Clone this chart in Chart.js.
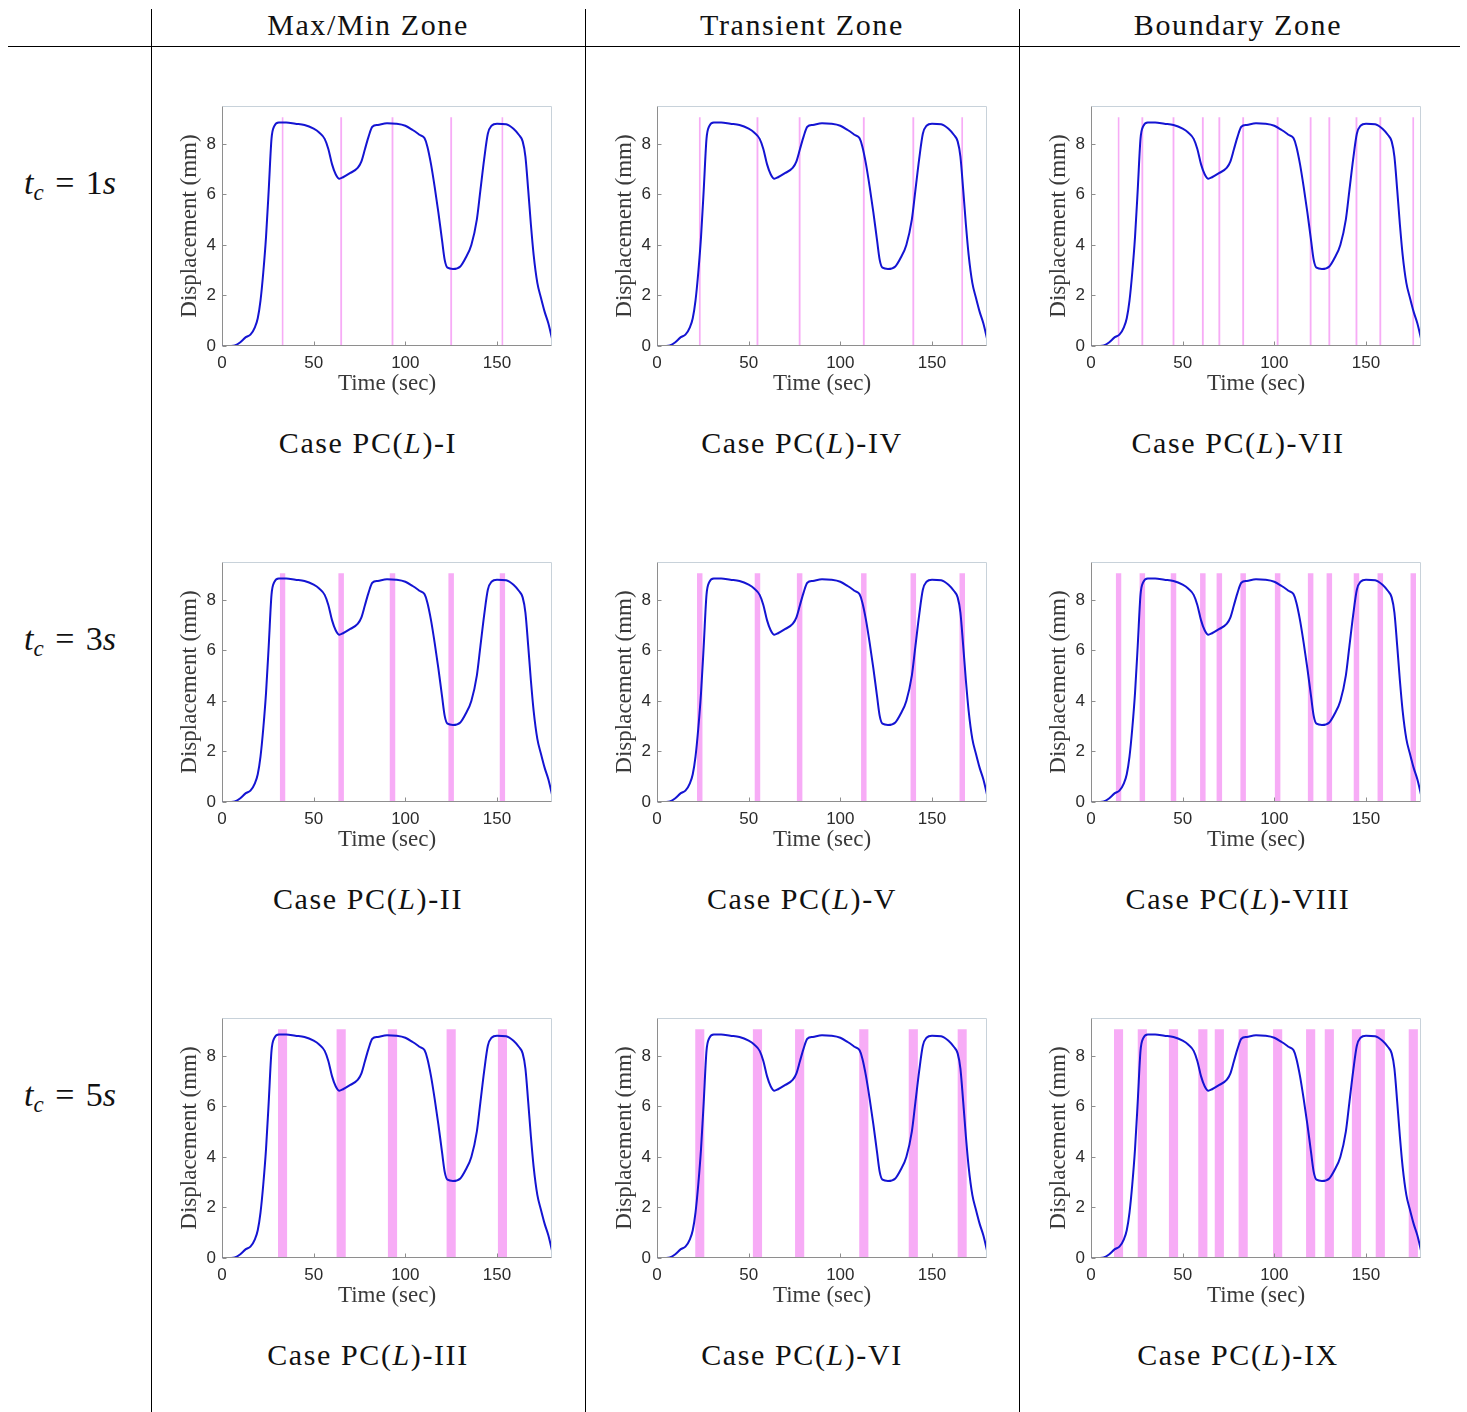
<!DOCTYPE html>
<html>
<head>
<meta charset="utf-8">
<script src="https://cdn.jsdelivr.net/npm/chart.js@4.4.1/dist/chart.umd.min.js"></script>
<style>
  body { margin: 0; width: 1467px; height: 1412px; background: #fff; position: relative; overflow: hidden; font-family: "Liberation Serif", serif; color: #111; }
  .vl { position: absolute; top: 9px; height: 1403px; width: 1px; background: #000; }
  .hl { position: absolute; left: 8px; width: 1452px; top: 46px; height: 1px; background: #000; }
  .txt { position: absolute; transform: translate(-50%, -50%); white-space: nowrap; font-size: 30px; letter-spacing: 1.6px; }
  .row { letter-spacing: 0; font-size: 34px; word-spacing: 3px; }
  .row sub { font-size: 23px; vertical-align: -6px; line-height: 0; }
  .cell { position: absolute; width: 392px; height: 305px; }
</style>
</head>
<body>
<div class="vl" style="left:151px"></div>
<div class="vl" style="left:585px"></div>
<div class="vl" style="left:1019px"></div>
<div class="hl"></div>

<script>
// displacement record (same test for every case)
const timeSec = [0, 5, 7, 10, 13, 15.5, 18, 19.5, 21, 22.5, 24, 25.5, 27, 28.5, 31, 35, 40, 45, 50, 53,
  56, 58, 60, 62, 64, 66, 70, 74, 76, 78, 80, 82, 85, 90, 95, 100, 104, 108, 110.5, 112,
  114, 116, 118, 120, 121.5, 123, 126, 130, 133, 136, 139, 141, 143, 145, 147, 150, 155, 159, 162, 164,
  165.5, 167, 168.5, 170, 172, 174, 176, 178, 180];
const dispMm = [0, 0, 0.02, 0.15, 0.35, 0.45, 0.75, 1.1, 1.8, 2.9, 4.3, 6.2, 8.2, 8.7, 8.85, 8.85, 8.8, 8.75, 8.6, 8.45,
  8.2, 7.8, 7.2, 6.8, 6.62, 6.68, 6.85, 7.05, 7.3, 7.8, 8.3, 8.68, 8.75, 8.82, 8.8, 8.72, 8.55, 8.35, 8.22, 7.9,
  7.2, 6.3, 5.3, 4.2, 3.4, 3.1, 3.05, 3.15, 3.5, 4.0, 5.0, 6.2, 7.4, 8.4, 8.72, 8.8, 8.78, 8.6, 8.35, 8.1,
  7.5, 6.2, 4.8, 3.6, 2.5, 1.9, 1.35, 0.9, 0.3];

const xTicks = [0, 50, 100, 150];
const yTicks = [0, 2, 4, 6, 8];

const zoneNames = ["Max/Min Zone", "Transient Zone", "Boundary Zone"];
const cycleTimes = [1, 3, 5]; // t_c in seconds = band width
const maxMinCentres = [33, 65, 93, 125, 153];
const transientCentres = [23.3, 54.8, 77.8, 112.8, 139.8, 166.5];
const boundaryCentres = [15, 28, 45, 61, 70, 83, 101.8, 119.8, 130, 144.8, 157.8, 175.8];
const zoneCentres = [maxMinCentres, transientCentres, boundaryCentres];
const caseNumerals = ["I", "II", "III", "IV", "V", "VI", "VII", "VIII", "IX"];
const bandTop = 9.05;

const colLeft = [222, 657, 1091];
const colMid = [368, 802, 1238];
const rowTop = [106, 562, 1018];

function addText(html, x, y, cls) {
  const d = document.createElement("div");
  d.className = "txt " + (cls || "");
  d.style.left = x + "px";
  d.style.top = y + "px";
  d.innerHTML = html;
  document.body.appendChild(d);
}

zoneNames.forEach((z, c) => addText(z, colMid[c], 25));
cycleTimes.forEach((tc, r) => addText(`<i>t</i><sub><i>c</i></sub>&nbsp;=&nbsp;${tc}<i>s</i>`, 70, rowTop[r] + 77, "row"));

// bands as closed steps filled down to zero
function bandPoints(centres, w) {
  const pts = [];
  centres.forEach((c) => {
    pts.push({ x: c - w / 2, y: 0 }, { x: c - w / 2, y: bandTop }, { x: c + w / 2, y: bandTop }, { x: c + w / 2, y: 0 });
  });
  return pts;
}

const frame = {
  id: "frame",
  afterDraw(chart) {
    const { ctx, chartArea: a, scales } = chart;
    const L = Math.round(a.left) + 0.5, R = Math.round(a.right) - 0.5;
    const T = Math.round(a.top) + 0.5, B = Math.round(a.bottom) - 0.5;
    ctx.save();
    ctx.lineWidth = 1;
    ctx.strokeStyle = "#c8d2da";
    ctx.beginPath();
    ctx.moveTo(L, T); ctx.lineTo(R, T); ctx.lineTo(R, B);
    ctx.stroke();
    ctx.strokeStyle = "#8e8e8e";
    ctx.beginPath();
    ctx.moveTo(L, T); ctx.lineTo(L, B); ctx.lineTo(R, B);
    xTicks.forEach((v) => {
      const px = Math.round(scales.x.getPixelForValue(v)) + 0.5;
      ctx.moveTo(px, B); ctx.lineTo(px, B - 4);
    });
    yTicks.forEach((v) => {
      const py = Math.round(scales.y.getPixelForValue(v)) + 0.5;
      ctx.moveTo(L, py); ctx.lineTo(L + 4, py);
    });
    ctx.stroke();
    ctx.restore();
  },
};

const tickFont = { family: "'Liberation Sans', Arial, sans-serif", size: 17 };
const titleFont = { family: "'Liberation Serif', serif", size: 23 };
const curve = timeSec.map((t, i) => ({ x: t, y: dispMm[i] }));

for (let c = 0; c < 3; c++) {
  for (let r = 0; r < 3; r++) {
    const cell = document.createElement("div");
    cell.className = "cell";
    cell.style.left = colLeft[c] - 52 + "px";
    cell.style.top = rowTop[r] - 11 + "px";
    const cv = document.createElement("canvas");
    cell.appendChild(cv);
    document.body.appendChild(cell);

    addText(`Case PC(<i>L</i>)-${caseNumerals[c * 3 + r]}`, colMid[c], rowTop[r] + 337);

    new Chart(cv, {
      type: "line",
      data: {
        datasets: [
          {
            data: curve,
            borderColor: "#1414d2",
            borderWidth: 2,
            pointRadius: 0,
            cubicInterpolationMode: "monotone",
            fill: false,
          },
          {
            data: bandPoints(zoneCentres[c], cycleTimes[r]),
            borderWidth: 0,
            borderColor: "rgba(0,0,0,0)",
            pointRadius: 0,
            tension: 0,
            fill: "origin",
            backgroundColor: "rgba(246,158,244,0.85)",
          },
        ],
      },
      options: {
        responsive: true,
        maintainAspectRatio: false,
        animation: false,
        layout: { padding: { top: 11, right: 10, left: 0, bottom: 0 } },
        plugins: { legend: { display: false }, tooltip: { enabled: false } },
        scales: {
          x: {
            type: "linear",
            min: 0,
            max: 180,
            afterBuildTicks: (s) => { s.ticks = xTicks.map((v) => ({ value: v })); },
            afterFit: (s) => { s.height = 54; s.paddingLeft = 0; s.paddingRight = 0; },
            grid: { display: false, drawTicks: false },
            border: { display: false },
            ticks: { color: "#2b2b2b", font: tickFont, padding: 7, autoSkip: false, maxRotation: 0 },
            title: { display: true, text: "Time (sec)", color: "#3a3a3a", font: titleFont, padding: { top: 0, bottom: 2 } },
          },
          y: {
            min: 0,
            max: 9.5,
            afterBuildTicks: (s) => { s.ticks = yTicks.map((v) => ({ value: v })); },
            afterFit: (s) => { s.width = 52; s.paddingTop = 0; s.paddingBottom = 0; },
            grid: { display: false, drawTicks: false },
            border: { display: false },
            ticks: { color: "#2b2b2b", font: tickFont, padding: 6, autoSkip: false },
            title: { display: true, text: "Displacement (mm)", color: "#3a3a3a", font: titleFont, padding: { top: 6, bottom: 0 } },
          },
        },
      },
      plugins: [frame],
    });
  }
}
</script>
</body>
</html>
